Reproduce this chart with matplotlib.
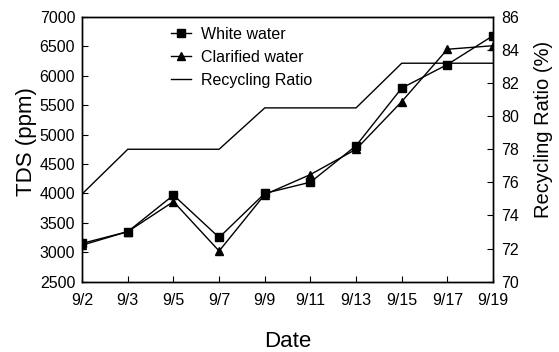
import numpy as np
import matplotlib
matplotlib.use("Agg")
from matplotlib import pyplot as plt

plt.rcParams['font.family'] = ['Liberation Sans', 'DejaVu Sans']

dates = ['9/2', '9/3', '9/5', '9/7', '9/9', '9/11', '9/13', '9/15', '9/17', '9/19']
white_water = [3150, 3350, 3970, 3250, 4000, 4190, 4810, 5790, 6190, 6680]
clarified_water = [3120, 3350, 3860, 3020, 3980, 4320, 4750, 5560, 6450, 6510]
recycling_ratio = [75.3, 78.0, 78.0, 78.0, 80.5, 80.5, 80.5, 83.2, 83.2, 83.2]

x = np.arange(len(dates))

fig, ax = plt.subplots(figsize=(5.59, 3.52), dpi=100)
fig.subplots_adjust(left=0.147, right=0.882, top=0.952, bottom=0.2)
ax2 = ax.twinx()

l1, = ax.plot(x, white_water, '-', color='black', marker='s', markersize=5.5, lw=1.0,
              label='White water')
l2, = ax.plot(x, clarified_water, '-', color='black', marker='^', markersize=5.5, lw=1.0,
              label='Clarified water')
l3, = ax2.plot(x, recycling_ratio, '-', color='black', lw=1.0, label='Recycling Ratio')

ax.set_xlim(0, len(dates) - 1)
ax.set_ylim(2500, 7000)
ax.set_yticks(np.arange(2500, 7001, 500))
ax.set_xticks(x)
ax.set_xticklabels(dates)
ax2.set_ylim(70, 86)
ax2.set_yticks(np.arange(70, 87, 2))

for a in (ax, ax2):
    a.tick_params(direction='in', labelsize=11.5, length=4, width=0.8)
    for s in a.spines.values():
        s.set_linewidth(1.0)
ax.tick_params(axis='x', pad=8)
ax.tick_params(axis='y', pad=5)
ax2.tick_params(axis='y', pad=6)

ax.set_ylabel('TDS (ppm)', fontsize=16)
ax.yaxis.set_label_coords(-0.11, 0.53)
ax.set_xlabel('Date', fontsize=16)
ax.xaxis.set_label_coords(0.501, -0.185)
ax2.set_ylabel('Recycling Ratio (%)', fontsize=14.5)
ax2.yaxis.set_label_coords(1.1, 0.575)

ax.legend(handles=[l1, l2, l3], loc='upper left', bbox_to_anchor=(0.18, 1.017),
          frameon=False, fontsize=11.5, handlelength=1.3, handletextpad=0.6,
          labelspacing=0.5)

fig.savefig('out.png', dpi=100)
